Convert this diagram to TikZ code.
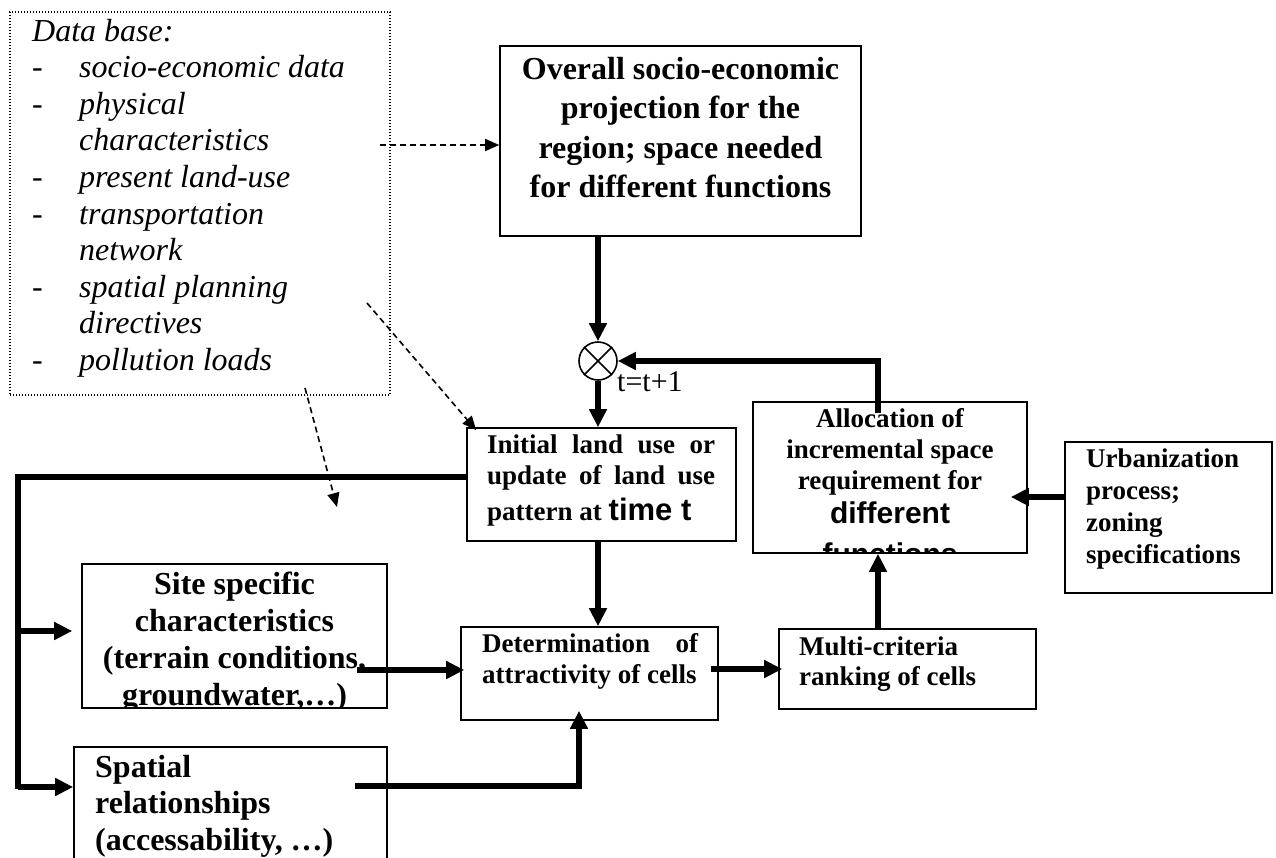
\documentclass[tikz,border=0pt]{standalone}
\usepackage{fontspec}
\setmainfont{Liberation Serif}
\setsansfont{Liberation Sans}
\usetikzlibrary{arrows.meta,calc}

\tikzset{
  box/.style={draw, rectangle, line width=1.6pt, inner sep=0pt},
  dbbox/.style={draw, rectangle, line width=1.2pt, dash pattern=on 1.2pt off 1.8pt, inner sep=0pt},
  flow/.style={line width=5.8pt, line join=miter, -{Triangle[length=18pt,width=17pt]}},
  flowline/.style={line width=5.8pt, line join=miter},
  hint/.style={line width=1.6pt, dash pattern=on 6pt off 4pt, -{Triangle[length=14pt,width=12pt]}},
  smalltxt/.style={inner sep=0pt, font=\bfseries\fontsize{27}{31}\selectfont},
  bigtxt/.style={inner sep=0pt, font=\bfseries\fontsize{32}{37}\selectfont},
}

\begin{document}
\begin{tikzpicture}[x=1pt, y=-1pt]
\useasboundingbox (0,0) rectangle (1276,857);
\clip (0,0) rectangle (1276,857);

% ---------- frames ----------
\node[dbbox, minimum width=380pt, minimum height=383pt] (db) at (200,203.5) {};
\node[box, minimum width=361pt, minimum height=190pt] (ov) at (680.5,141) {};
\node[box, circle, minimum size=38pt] (cx) at (598,361) {};
\node[box, minimum width=269pt, minimum height=113pt] (in) at (601.5,484.5) {};
\node[box, minimum width=274pt, minimum height=151pt] (al) at (890,477.5) {};
\node[box, minimum width=207pt, minimum height=151pt] (ur) at (1168.5,517.5) {};
\node[box, minimum width=305pt, minimum height=144pt] (si) at (234.5,636) {};
\node[box, minimum width=257pt, minimum height=93pt] (det) at (589.5,673.5) {};
\node[box, minimum width=257pt, minimum height=80pt] (mc) at (907.5,669) {};
\node[box, minimum width=313pt, minimum height=153pt] (sp) at (230.5,823.5) {};

% multiplication sign in the junction circle
\draw[line width=1.6pt] (cx.north west) -- (cx.south east) (cx.north east) -- (cx.south west);

% ---------- texts ----------
\node[inner sep=0pt, anchor=base west, font=\itshape\fontsize{32}{36.6}\selectfont] (dbt) at (32,41)
  {\parbox[t]{352pt}{\raggedright Data base:\\
   \makebox[47pt][l]{\upshape -}socio-economic data\\
   \makebox[47pt][l]{\upshape -}physical\\
   \hspace*{47pt}characteristics\\
   \makebox[47pt][l]{\upshape -}present land-use\\
   \makebox[47pt][l]{\upshape -}transportation\\
   \hspace*{47pt}network\\
   \makebox[47pt][l]{\upshape -}spatial planning\\
   \hspace*{47pt}directives\\
   \makebox[47pt][l]{\upshape -}pollution loads}};

\node[bigtxt, anchor=base, font=\bfseries\fontsize{32}{39.5}\selectfont] (ovt) at (680.5,79)
  {\parbox[t]{361pt}{\centering Overall socio-economic\\projection for the\\region; space needed\\for different functions}};

\node[inner sep=0pt, anchor=base west, font=\fontsize{30}{34}\selectfont] (tt) at (617,391) {t=t+1};

\node[smalltxt, anchor=base west] (int) at (487,453)
  {\parbox[t]{228pt}{\makebox[228pt][s]{Initial land use or}\\
   \makebox[228pt][s]{update of land use}\\[5pt]
   pattern at {\sffamily\fontsize{31}{31}\selectfont time t}}};

\begin{scope}
  \clip (al.north west) rectangle (al.south east);
  \node[smalltxt, anchor=base] (alt) at (890,427)
    {\parbox[t]{274pt}{\centering Allocation of\\incremental space\\requirement for\par
     {\sffamily\fontsize{30}{34}\selectfont different\\[7pt]functions\par}}};
\end{scope}

\node[smalltxt, anchor=base west, font=\bfseries\fontsize{27}{32}\selectfont] (urt) at (1086,467)
  {\parbox[t]{184pt}{\raggedright Urbanization\\process;\\zoning\\specifications}};

\begin{scope}
  \clip (si.north west) rectangle (si.south east);
  \node[bigtxt, anchor=base] (sit) at (234.5,594)
    {\parbox[t]{305pt}{\centering Site specific\\characteristics\\(terrain conditions,\\groundwater,…)}};
\end{scope}

\node[bigtxt, anchor=base west, font=\bfseries\fontsize{32}{36.5}\selectfont] (spt) at (95,777)
  {\parbox[t]{290pt}{\raggedright Spatial\\relationships\\(accessability, …)}};

\node[smalltxt, anchor=base west] (dett) at (482,652)
  {\parbox[t]{216pt}{\makebox[216pt][s]{Determination of}\\attractivity of cells}};

\node[smalltxt, anchor=base west, font=\bfseries\fontsize{27}{30}\selectfont] (mct) at (799,655)
  {\parbox[t]{230pt}{\raggedright Multi-criteria\\ranking of cells}};

% ---------- helper points ----------
\coordinate (busTop) at (18,477);
\coordinate (busSite) at (18,631);
\coordinate (busSp) at (18,787);
\coordinate (siOut) at (357,670);
\coordinate (spOut) at (355,786);
\coordinate (fb) at (878,413);
\coordinate (urIn) at (1065,497);
\coordinate (d1) at (380,145);
\coordinate (d2) at (367,303);
\coordinate (d3) at (305,388);
\coordinate (d3e) at (337,507);

% ---------- main flow ----------
\draw[flow] (ov.south -| cx) -- (cx.north);
\draw[flow] (cx.south) -- (in.north -| cx);
\draw[flow] (in.south -| cx) -- (det.north -| cx);
\draw[flow] (fb) |- (cx.east);
\draw[flow] (mc.north -| fb) -- (al.south -| fb);
\draw[flow] (urIn) -- ($(al.east |- urIn)+(-17,0)$);
\draw[flow] ($(det.east |- mc.west)+(-8,0)$) -- ($(mc.west)+(4,0)$);

% bus feeding the site and spatial boxes
\draw[flowline] (in.west |- busTop) -- (busTop) -- ($(busSp)+(0,2)$);
\draw[flow] (busSite) -- ($(si.west |- busSite)+(-9,0)$);
\draw[flow] (busSp) -- (sp.west |- busSp);

% inputs to the attractivity box
\draw[flow] (siOut) -- ($(det.west |- siOut)+(4,0)$);
\draw[flow] (spOut) -| ($(det.south)+(-10.5,-10)$);

% ---------- data base links ----------
\draw[hint] (d1) -- (ov.west |- d1);
\draw[hint] (d2) -- ($(in.north west)+(10,3)$);
\draw[hint] (d3) -- (d3e);
\end{tikzpicture}
\end{document}
